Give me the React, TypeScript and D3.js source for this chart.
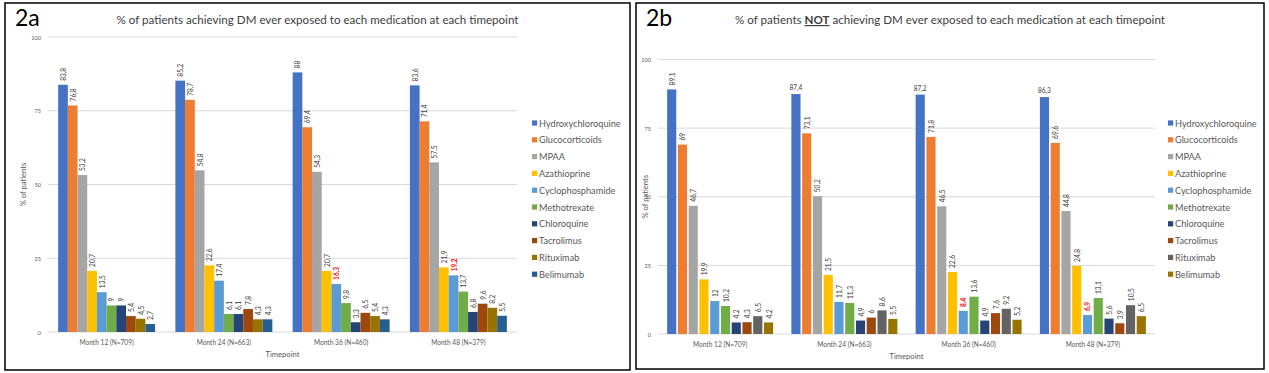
import React from "react";
import * as d3 from "d3";

// timepoints (x categories) and the ten medications (series)
const timepoints = ["Month 12 (N=709)", "Month 24 (N=663)", "Month 36 (N=460)", "Month 48 (N=379)"];
const medications = [
  "Hydroxychloroquine", "Glucocorticoids", "MPAA", "Azathioprine", "Cyclophosphamide",
  "Methotrexate", "Chloroquine", "Tacrolimus", "Rituximab", "Belimumab",
];

// % of patients per timepoint, same order as medications
const achievingDM = [
  [83.8, 76.8, 53.2, 20.7, 13.5, 9, 9, 5.4, 4.5, 2.7],
  [85.2, 78.7, 54.8, 22.6, 17.4, 6.1, 6.1, 7.8, 4.3, 4.3],
  [88, 69.4, 54.3, 20.7, 16.3, 9.8, 3.3, 6.5, 5.4, 4.3],
  [83.6, 71.4, 57.5, 21.9, 19.2, 13.7, 6.8, 9.6, 8.2, 5.5],
];
const notAchievingDM = [
  [89.1, 69, 46.7, 19.9, 12, 10.2, 4.2, 4.3, 6.5, 4.2],
  [87.4, 73.1, 50.2, 21.5, 11.7, 11.3, 4.9, 6, 8.6, 5.5],
  [87.2, 71.8, 46.5, 22.6, 8.4, 13.6, 4.9, 7.6, 9.2, 5.2],
  [86.3, 69.6, 44.8, 24.8, 6.9, 13.1, 5.6, 3.9, 10.5, 6.5],
];

const yTicks = [0, 25, 50, 75, 100];

const coloursA = ["#4472C4", "#ED7D31", "#A5A5A5", "#FFC000", "#5B9BD5", "#70AD47", "#264478", "#9E480E", "#997300", "#255E91"];
const coloursB = ["#4472C4", "#ED7D31", "#A5A5A5", "#FFC000", "#5B9BD5", "#70AD47", "#264478", "#9E480E", "#636363", "#997300"];

// labels drawn bold red (Cyclophosphamide at these timepoints)
const highlightMed = "Cyclophosphamide";
const highlightTimes = ["Month 36 (N=460)", "Month 48 (N=379)"];
// in 2b the Hydroxychloroquine labels of these timepoints are written flat
const flatLabelTimesB = ["Month 24 (N=663)", "Month 36 (N=460)", "Month 48 (N=379)"];

const fmt = d3.formatLocale({ decimal: ",", thousands: ".", grouping: [3], currency: ["", ""] }).format("");

const FONT = "Lato, 'Open Sans', sans-serif";

function Panel(props) {
  const { box, tag, title, values, colours, plot, groupPad, barPad, legendX, flatTimes } = props;

  const x0 = d3.scaleBand()
    .domain(timepoints)
    .range([plot.left, plot.right])
    .paddingInner(groupPad)
    .paddingOuter(groupPad / 2);
  const x1 = d3.scaleBand()
    .domain(medications)
    .range([0, x0.bandwidth()])
    .paddingInner(barPad);
  const y = d3.scaleLinear().domain([0, 100]).range([plot.bottom, plot.top]);

  const cx = (box.x0 + box.x1) / 2;
  const midX = (plot.left + plot.right) / 2;

  return (
    <g>
      <rect x={box.x0} y={box.y0} width={box.x1 - box.x0} height={box.y1 - box.y0}
        fill="#fff" stroke="#000" strokeWidth={1.5} />
      <text x={box.x0 + 10} y={box.y0 + 23} fontSize={23} fontFamily={FONT} fill="#000">{tag}</text>
      <text x={cx} y={box.y0 + 21} fontSize={11.6} fontFamily={FONT} fill="#404040" textAnchor="middle">
        {title}
      </text>

      {yTicks.map((t) => (
        <g key={t}>
          <line x1={plot.left} x2={plot.right} y1={y(t)} y2={y(t)} stroke="#D9D9D9" strokeWidth={1} />
          <text x={plot.left - 7} y={y(t)} fontSize={5.6} fontFamily={FONT} fill="#595959"
            textAnchor="end" dominantBaseline="central">{t}</text>
        </g>
      ))}

      {timepoints.map((tp, i) => (
        <g key={tp} transform={`translate(${x0(tp)},0)`}>
          {medications.map((m, j) => {
            const v = values[i][j];
            const bx = x1(m);
            const bc = bx + x1.bandwidth() / 2;
            const top = y(v);
            const hot = m === highlightMed && highlightTimes.includes(tp);
            const flat = j === 0 && flatTimes.includes(tp);
            return (
              <g key={m}>
                <rect x={bx} y={top} width={x1.bandwidth()} height={y(0) - top} fill={colours[j]} />
                {flat ? (
                  <text x={bc} y={top - 4} fontSize={6.6} fontFamily={FONT} fill="#404040"
                    textAnchor="middle">{fmt(v)}</text>
                ) : (
                  <text transform={`translate(${bc},${top - 4}) rotate(-90)`} fontSize={6.6}
                    fontFamily={FONT} fill={hot ? "#FF0000" : "#404040"} fontWeight={hot ? 700 : 400}
                    dominantBaseline="central">{fmt(v)}</text>
                )}
              </g>
            );
          })}
          <text x={x0.bandwidth() / 2} y={plot.bottom + 10} fontSize={6.6} fontFamily={FONT}
            fill="#595959" textAnchor="middle" dominantBaseline="central">{tp}</text>
        </g>
      ))}

      <text x={midX} y={plot.bottom + 22} fontSize={7.6} fontFamily={FONT} fill="#595959"
        textAnchor="middle" dominantBaseline="central">Timepoint</text>
      <text transform={`translate(${plot.axisTitleX},${(plot.top + plot.bottom) / 2 + plot.axisTitleDy}) rotate(-90)`}
        fontSize={7.6} fontFamily={FONT} fill="#595959" textAnchor="middle" dominantBaseline="central">
        % of patients
      </text>

      {medications.map((m, j) => {
        const ly = 123 + j * 16.8;
        return (
          <g key={m}>
            <rect x={legendX} y={ly - 2.6} width={5.2} height={5.2} fill={colours[j]} />
            <text x={legendX + 7} y={ly} fontSize={9.2} fontFamily={FONT} fill="#595959"
              dominantBaseline="central">{m}</text>
          </g>
        );
      })}
    </g>
  );
}

export default function App() {
  return (
    <svg width={1269} height={373} style={{ position: "absolute", left: 0, top: 0, background: "#fff" }}>
      <Panel
        box={{ x0: 5, x1: 630, y0: 3, y1: 370 }}
        tag="2a"
        title="% of patients achieving DM ever exposed to each medication at each timepoint"
        values={achievingDM}
        colours={coloursA}
        plot={{ left: 48, right: 517, top: 37, bottom: 332, axisTitleX: 23, axisTitleDy: 0 }}
        groupPad={0.173}
        barPad={0}
        legendX={532}
        flatTimes={[]}
      />
      <Panel
        box={{ x0: 636, x1: 1264, y0: 3, y1: 369 }}
        tag="2b"
        title={<>% of patients <tspan fontWeight={700} textDecoration="underline">NOT</tspan> achieving DM ever exposed to each medication at each timepoint</>}
        values={notAchievingDM}
        colours={coloursB}
        plot={{ left: 658, right: 1155, top: 59.5, bottom: 334, axisTitleX: 645, axisTitleDy: 0 }}
        groupPad={0.147}
        barPad={0.15}
        legendX={1168}
        flatTimes={flatLabelTimesB}
      />
    </svg>
  );
}
